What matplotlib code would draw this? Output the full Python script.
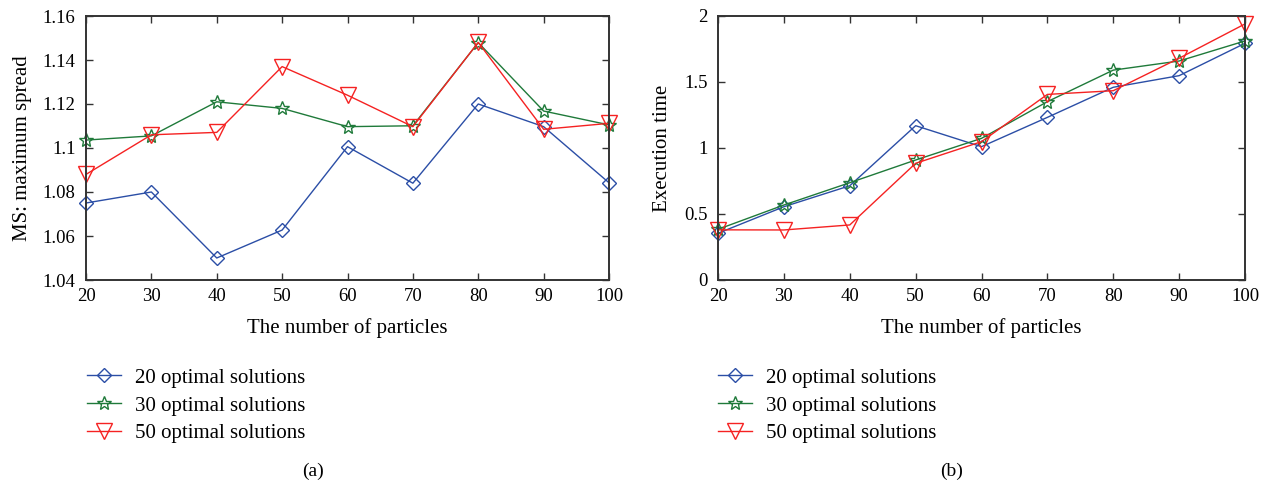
import matplotlib
matplotlib.use("Agg")
import matplotlib.pyplot as plt

particles = [20, 30, 40, 50, 60, 70, 80, 90, 100]

ms_20 = [1.075, 1.080, 1.050, 1.0627, 1.1006, 1.084, 1.120, 1.1097, 1.0842]
ms_30 = [1.1036, 1.1055, 1.121, 1.118, 1.1097, 1.1101, 1.1479, 1.1168, 1.1105]
ms_50 = [1.088, 1.106, 1.1071, 1.137, 1.124, 1.1097, 1.148, 1.1085, 1.1112]

et_20 = [0.354, 0.555, 0.714, 1.169, 1.010, 1.232, 1.460, 1.548, 1.793]
et_30 = [0.384, 0.568, 0.737, 0.909, 1.073, 1.351, 1.590, 1.659, 1.811]
et_50 = [0.380, 0.379, 0.417, 0.884, 1.048, 1.406, 1.434, 1.680, 1.940]

labels = ["20 optimal solutions", "30 optimal solutions", "50 optimal solutions"]
ms_ticks = [1.04, 1.06, 1.08, 1.10, 1.12, 1.14, 1.16]
ms_ticklabels = ["1.04", "1.06", "1.08", "1.1", "1.12", "1.14", "1.16"]
et_ticks = [0, 0.5, 1, 1.5, 2]
et_ticklabels = ["0", "0.5", "1", "1.5", "2"]
xlabel = "The number of particles"

plt.rcParams['font.family'] = ['Liberation Serif', 'DejaVu Serif']
plt.rcParams['font.size'] = 13

colors = ["#2b4ea6", "#1f7a3a", "#f52222"]
markers = ["D", "*", "v"]
msizes = [7, 10.5, 11]

W, H = 1266, 484
fig = plt.figure(figsize=(W/100, H/100), dpi=100)
ax1 = fig.add_axes([86/W, 1-280/H, (609-86)/W, (280-16)/H])
ax2 = fig.add_axes([718/W, 1-280/H, (1245-718)/W, (280-16)/H])

LBL = 15

def style(ax):
    ax.tick_params(direction='in', top=True, right=True, length=5, width=1,
                   labelsize=13.5, color='#333333')
    ax.tick_params(axis='y', pad=7.5)
    ax.tick_params(axis='x', pad=6)
    for s in ax.spines.values():
        s.set_linewidth(1.4)
        s.set_color('#333333')
    ax.set_xlim(20, 100)
    ax.set_xticks(particles)
    ax.set_xlabel(xlabel, fontsize=LBL, labelpad=9)

for ax, series, yt, ytl, ylim, ylab, lx, legx in [
    (ax1, [ms_20, ms_30, ms_50], ms_ticks, ms_ticklabels, (1.04, 1.16), "MS: maximum spread", -0.103, 87),
    (ax2, [et_20, et_30, et_50], et_ticks, et_ticklabels, (0, 2), "Execution time", -0.0875, 718),
]:
    for vals, c, m, s, lab in zip(series, colors, markers, msizes, labels):
        ax.plot(particles, vals, color=c, marker=m, markersize=s,
                markerfacecolor='none', markeredgecolor=c, markeredgewidth=1.0,
                linewidth=1.0, label=lab, clip_on=False)
    style(ax)
    ax.set_ylim(*ylim)
    ax.set_yticks(yt)
    ax.set_yticklabels(ytl)
    ax.set_ylabel(ylab, fontsize=LBL)
    ax.yaxis.set_label_coords(lx, 0.5)
    ax.legend(loc='upper left', bbox_to_anchor=(legx/W, 1-368/H), bbox_transform=fig.transFigure,
              frameon=False, fontsize=LBL, handlelength=1.65, handletextpad=0.65,
              borderpad=0, borderaxespad=0, labelspacing=0.4)

fig.text(313/W, 1-471/H, "(a)", ha='center', va='center', fontsize=14)
fig.text(952/W, 1-471/H, "(b)", ha='center', va='center', fontsize=14)

fig.savefig("out.png", dpi=100)
